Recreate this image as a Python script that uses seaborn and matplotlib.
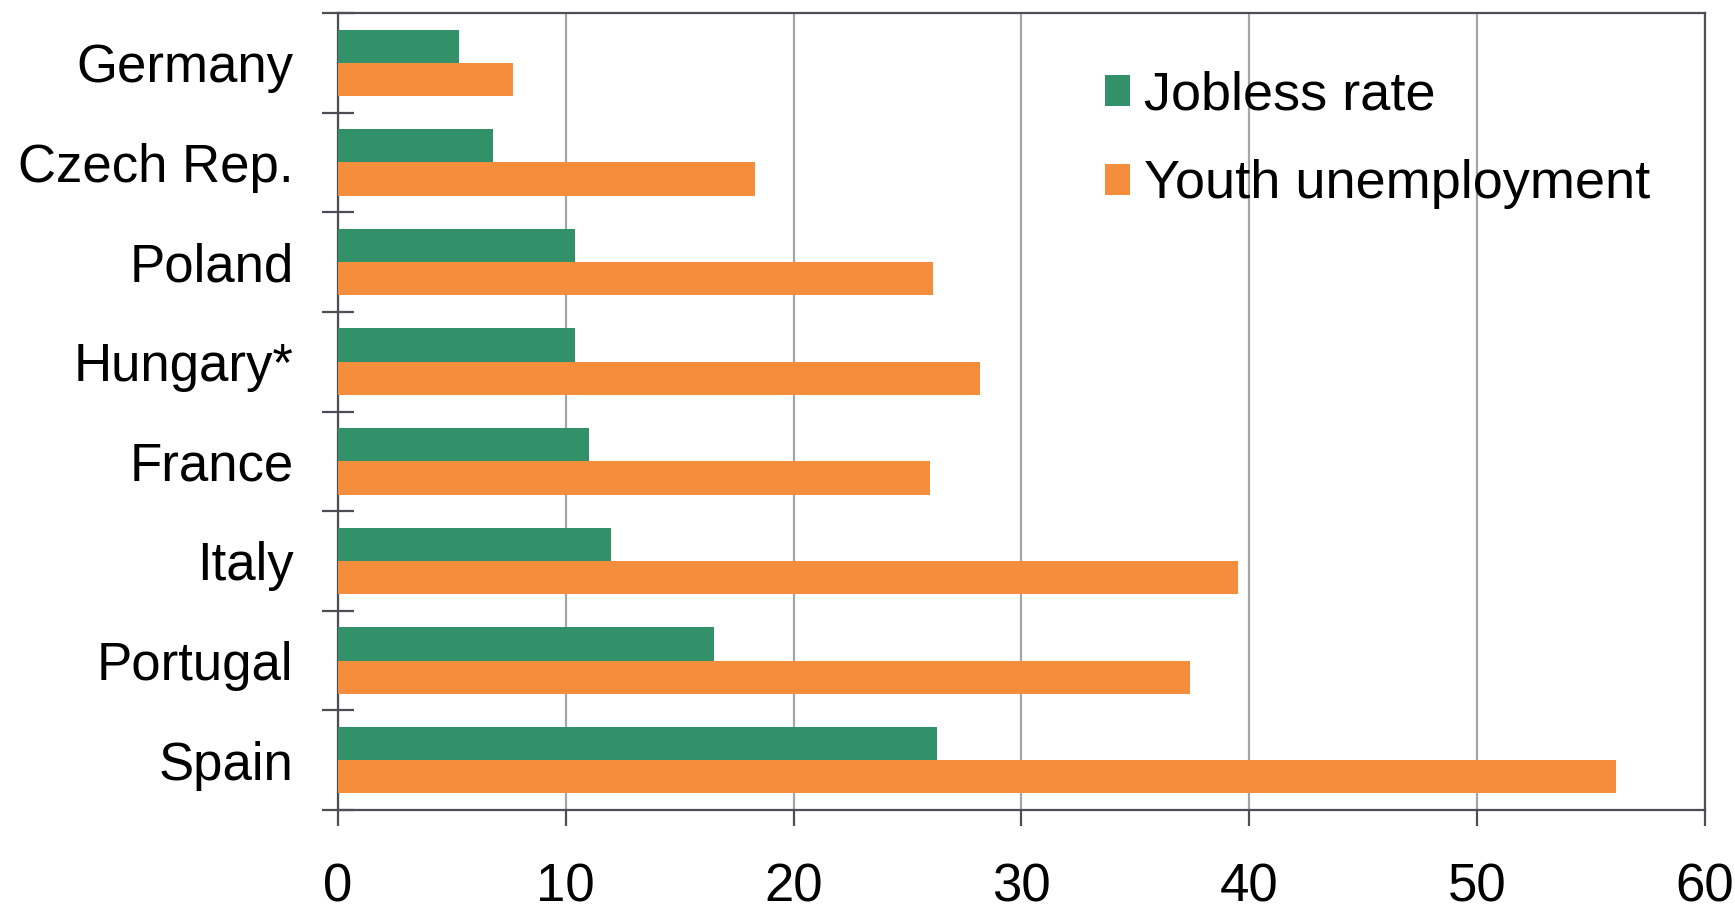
import matplotlib
matplotlib.use("Agg")
import matplotlib.pyplot as plt
import pandas as pd
import seaborn as sns
from matplotlib.ticker import FixedLocator

countries = ["Germany", "Czech Rep.", "Poland", "Hungary*", "France",
             "Italy", "Portugal", "Spain"]
jobless_rate = [5.3, 6.8, 10.4, 10.4, 11.0, 12.0, 16.5, 26.3]
youth_unemployment = [7.7, 18.3, 26.1, 28.2, 26.0, 39.5, 37.4, 56.1]
series_names = ["Jobless rate", "Youth unemployment"]
colors = ["#33916a", "#f48e3c"]
x_ticks = [0, 10, 20, 30, 40, 50, 60]

df = pd.DataFrame({
    "country": countries * 2,
    "value": jobless_rate + youth_unemployment,
    "series": [series_names[0]] * len(countries) + [series_names[1]] * len(countries),
})

sns.set_style("white")
plt.rcParams["font.family"] = ["Liberation Sans", "DejaVu Sans"]
plt.rcParams["text.color"] = "black"
plt.rcParams["xtick.labelcolor"] = "black"
plt.rcParams["ytick.labelcolor"] = "black"

spine_col = "#4b4f55"
grid_col = "#a3a6a9"

fig = plt.figure(figsize=(17.35, 9.1), dpi=100)
ax = fig.add_axes([0.1948, 0.1099, 0.7879, 0.8758])

sns.barplot(data=df, x="value", y="country", hue="series", order=countries,
            hue_order=series_names, palette=colors, orient="h", width=0.667,
            saturation=1, linewidth=0, ax=ax, zorder=3)

ax.set_xlim(0, 60)
ax.set_ylim(len(countries) - 0.5, -0.5)
ax.set_xlabel("")
ax.set_ylabel("")

ax.xaxis.set_major_locator(FixedLocator(x_ticks))
ax.set_xticklabels([str(t) for t in x_ticks])
ax.grid(axis="x", color=grid_col, linewidth=1.6, zorder=0)
ax.grid(axis="y", visible=False)
ax.set_axisbelow(True)

for s in ax.spines.values():
    s.set_visible(True)
    s.set_color(spine_col)
    s.set_linewidth(1.6)

ax.tick_params(axis="x", direction="out", length=11.5, width=1.6,
               color=spine_col, labelsize=38, pad=26, bottom=True,
               labelcolor="black")
ax.tick_params(axis="y", which="major", length=0, labelsize=38, pad=32,
               left=True, labelcolor="black")
ax.yaxis.set_minor_locator(FixedLocator([i - 0.5 for i in range(len(countries) + 1)]))
ax.tick_params(axis="y", which="minor", direction="inout", length=23,
               width=1.6, color=spine_col, left=True)

handles, labels = ax.get_legend_handles_labels()
leg = ax.legend(handles, labels, loc="upper left", bbox_to_anchor=(0.561, 0.928),
                frameon=False, fontsize=39, handlelength=0.47, handleheight=0.5,
                handletextpad=0.25, labelspacing=0.72, borderpad=0, borderaxespad=0)
for t in leg.get_texts():
    t.set_color("black")

fig.savefig("out.png", dpi=100)
